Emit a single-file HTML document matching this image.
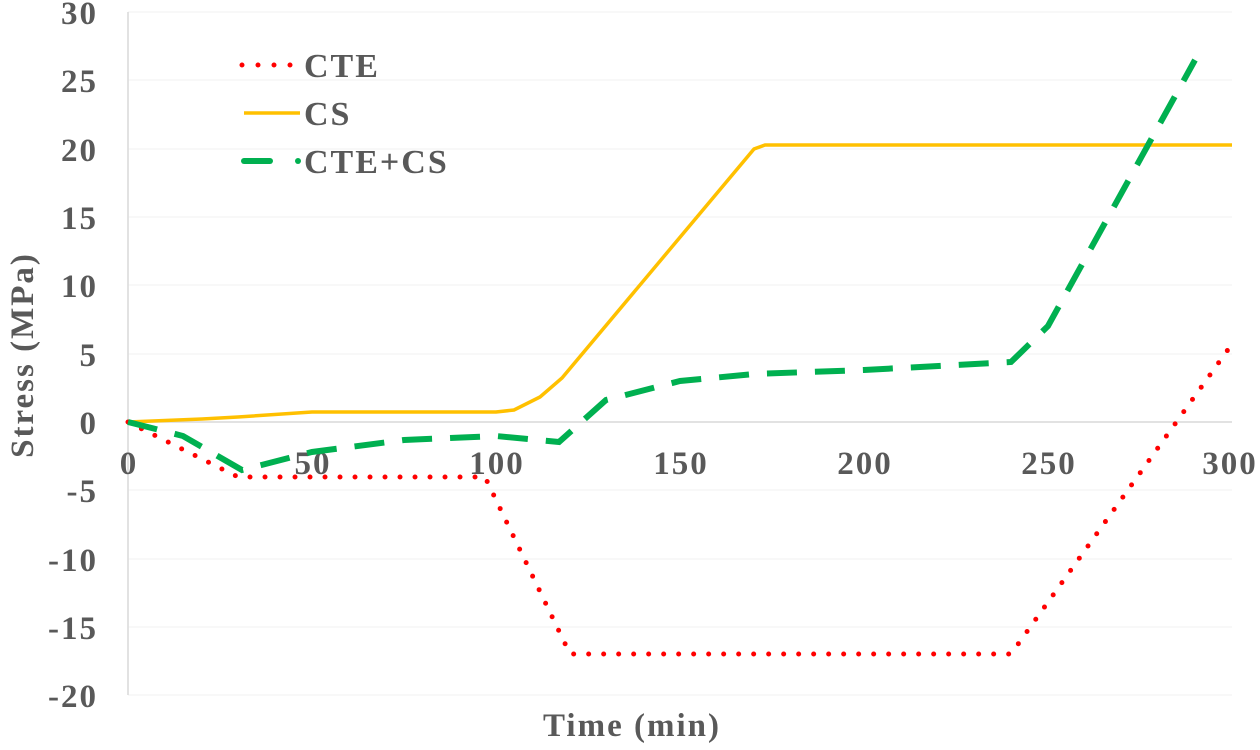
<!DOCTYPE html><html><head><style>body{margin:0;background:#fff}text{font-family:"Liberation Serif",serif;font-weight:bold;fill:#595959;letter-spacing:2px}</style></head><body>
<svg width="1260" height="745" xmlns="http://www.w3.org/2000/svg">
<g stroke="#f0f0f0" stroke-width="1">
<line x1="128" y1="12" x2="1232" y2="12"/><line x1="128" y1="80" x2="1232" y2="80"/><line x1="128" y1="149" x2="1232" y2="149"/><line x1="128" y1="217" x2="1232" y2="217"/><line x1="128" y1="285" x2="1232" y2="285"/><line x1="128" y1="354" x2="1232" y2="354"/><line x1="128" y1="490" x2="1232" y2="490"/><line x1="128" y1="559" x2="1232" y2="559"/><line x1="128" y1="627" x2="1232" y2="627"/><line x1="128" y1="695" x2="1232" y2="695"/>
</g>
<line x1="128" y1="422" x2="1232" y2="422" stroke="#d9d9d9" stroke-width="1.5"/>
<line x1="128" y1="12" x2="128" y2="695" stroke="#d9d9d9" stroke-width="1.5"/>
<g font-size="33" text-anchor="end">
<text x="98" y="24">30</text><text x="98" y="92">25</text><text x="98" y="161">20</text><text x="98" y="229">15</text><text x="98" y="297">10</text><text x="98" y="366">5</text><text x="98" y="434">0</text><text x="98" y="502">-5</text><text x="98" y="571">-10</text><text x="98" y="639">-15</text><text x="98" y="707">-20</text>
</g>
<g font-size="33" text-anchor="middle">
<text x="129" y="474">0</text><text x="313" y="474">50</text><text x="497" y="474">100</text><text x="681" y="474">150</text><text x="865" y="474">200</text><text x="1049" y="474">250</text><text x="1230" y="474">300</text>
<text x="632" y="736">Time (min)</text>
<text transform="translate(33,355) rotate(-90)">Stress (MPa)</text>
</g>
<polyline fill="none" stroke="#ffc000" stroke-width="3.5" points="128,422 202,419 238,417 312,412 496,412 514,410 540,397 562,378 754,149 765,145 1232,145"/>
<polyline fill="none" stroke="#ff0000" stroke-width="5" stroke-linecap="round" stroke-dasharray="0 15" points="128,422 238,477 485,477 570,654 1011,654 1232,344"/>
<polyline fill="none" stroke="#00b050" stroke-width="6" stroke-dasharray="30 18" points="128,422 183,436 242,470 312,452 404,440 496,436 559,442 606,400 680,381 754,374 864,370 1011,362 1048,326 1195,60"/>
<line x1="242" y1="65" x2="292" y2="65" stroke="#ff0000" stroke-width="5" stroke-linecap="round" stroke-dasharray="0 16"/>
<line x1="244" y1="113" x2="300" y2="113" stroke="#ffc000" stroke-width="3.5"/>
<line x1="244" y1="161" x2="270" y2="161" stroke="#00b050" stroke-width="6" stroke-linecap="round"/>
<circle cx="298" cy="161" r="3" fill="#00b050"/>
<g font-size="34"><text x="304" y="77">CTE</text><text x="304" y="125">CS</text><text x="304" y="173">CTE+CS</text></g>
</svg></body></html>
